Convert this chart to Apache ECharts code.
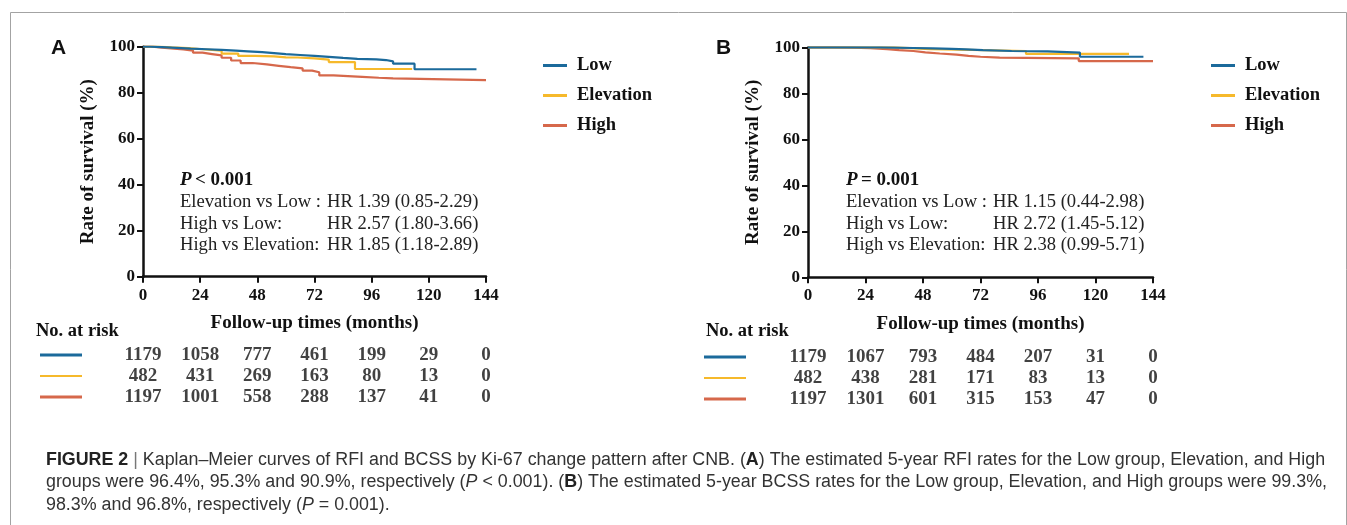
<!DOCTYPE html>
<html>
<head>
<meta charset="utf-8">
<title>Kaplan-Meier curves</title>
<script src="https://cdn.jsdelivr.net/npm/echarts@6/dist/echarts.min.js"></script>
<style>
  html, body { margin: 0; padding: 0; background: #fff; }
  #chart { width: 1347px; height: 525px; }
</style>
</head>
<body>
<div id="chart"></div>
<script>
// tick labels / risk table columns
var months = [0, 24, 48, 72, 96, 120, 144]
var groups = ['Low', 'Elevation', 'High']
var colors = ['#1b6a9b', '#f6b92b', '#d6684b']

// panel A curves (month, survival %)
var lowA = [[0, 100], [3, 99.8], [8, 99.5], [14, 99.2], [20, 98.9], [27, 98.6], [33, 98.3], [39, 98.0], [44, 97.6],
  [50, 97.2], [55, 96.8], [60, 96.4], [66, 96.0], [72, 95.6], [78, 95.1], [84, 94.7], [90, 94.5], [98, 94.2],
  [102, 93.6], [105, 92.6], [114, 90.2], [140, 90.2]]
var elevA = [[0, 100], [6, 99.7], [12, 99.4], [19, 98.9], [25, 98.3], [33, 97.0], [40, 96.0], [47, 95.8], [55, 95.4],
  [60, 95.3], [65, 94.9], [72, 94.4], [78, 93.3], [89, 90.3], [113, 90.3]]
var highA = [[0, 100], [4, 99.6], [8, 99.1], [13, 98.8], [17, 98.3], [21, 97.4], [25, 96.8], [29, 96.2], [33, 95.2],
  [37, 94.0], [41, 92.9], [46, 92.3], [52, 91.7], [57, 91.1], [62, 90.6], [67, 89.6], [71, 88.9], [74, 87.5],
  [80, 87.2], [86, 86.9], [92, 86.5], [99, 86.2], [105, 85.5], [144, 85.5]]

// panel B curves
var lowB = [[0, 100], [20, 100], [30, 99.9], [36, 99.7], [44, 99.5], [52, 99.3], [60, 99.1], [66, 98.8], [73, 98.4],
  [85, 98.2], [100, 97.7], [113.5, 95.9], [140, 95.9]]
var elevB = [[0, 100], [35, 100], [36, 99.2], [51, 98.4], [91, 97.1], [134, 97.1]]
var highB = [[0, 100], [10, 99.9], [18, 99.6], [26, 99.2], [33, 98.8], [38, 98.4], [44, 97.8], [49, 97.3], [55, 96.8],
  [62, 96.3], [67, 95.9], [72, 95.5], [80, 95.2], [113, 94.0], [144, 94.0]]

// number at risk
var riskLowA = [1179, 1058, 777, 461, 199, 29, 0]
var riskElevA = [482, 431, 269, 163, 80, 13, 0]
var riskHighA = [1197, 1001, 558, 288, 137, 41, 0]
var riskLowB = [1179, 1067, 793, 484, 207, 31, 0]
var riskElevB = [482, 438, 281, 171, 83, 13, 0]
var riskHighB = [1197, 1301, 601, 315, 153, 47, 0]

// hazard ratio notes
var compareLabels = ['Elevation vs Low :', 'High vs Low:', 'High vs Elevation:']
var hrA = ['HR 1.39 (0.85-2.29)', 'HR 2.57 (1.80-3.66)', 'HR 1.85 (1.18-2.89)']
var hrB = ['HR 1.15 (0.44-2.98)', 'HR 2.72 (1.45-5.12)', 'HR 2.38 (0.99-5.71)']

var serif = "'Liberation Serif', 'Times New Roman', serif"
var sans = "'Liberation Sans', Arial, sans-serif"

var option = {
  animation: false,
  backgroundColor: '#fff',
  grid: [],
  xAxis: [],
  yAxis: [],
  legend: [],
  series: [],
  graphic: []
}

function addPanel(cfg) {
  var g = option.grid.length
  // plot + risk table grids
  option.grid.push({ left: cfg.left, top: cfg.top, width: cfg.width, height: 230 })
  option.grid.push({ left: cfg.left, top: cfg.riskTop, width: cfg.width, height: 63 })

  option.xAxis.push({
    gridIndex: g, type: 'value', min: 0, max: 144, interval: 24,
    name: 'Follow-up times (months)', nameLocation: 'middle', nameGap: 37,
    nameTextStyle: { fontFamily: serif, fontWeight: 'bold', fontSize: 19, color: '#111' },
    axisLine: { show: true, lineStyle: { color: '#111', width: 2.5 } },
    axisTick: { show: true, length: 6, lineStyle: { color: '#111', width: 2 } },
    axisLabel: { margin: 10, fontFamily: serif, fontWeight: 'bold', fontSize: 17, color: '#111' },
    splitLine: { show: false }
  })
  option.xAxis.push({ gridIndex: g + 1, type: 'value', min: 0, max: 144, show: false })

  option.yAxis.push({
    gridIndex: g, type: 'value', min: 0, max: 100, interval: 20,
    name: 'Rate of survival (%)', nameLocation: 'middle', nameGap: 45,
    nameTextStyle: { fontFamily: serif, fontWeight: 'bold', fontSize: 19, color: '#111' },
    axisLine: { show: true, lineStyle: { color: '#111', width: 2.5 } },
    axisTick: { show: true, length: 6, lineStyle: { color: '#111', width: 2 } },
    axisLabel: { margin: 8, fontFamily: serif, fontWeight: 'bold', fontSize: 17, color: '#111' },
    splitLine: { show: false }
  })
  option.yAxis.push({
    gridIndex: g + 1, type: 'category', data: groups, inverse: true,
    axisLine: { show: false }, axisTick: { show: false }, splitLine: { show: false },
    axisLabel: {
      margin: cfg.left - cfg.markerRight,
      formatter: function (v) { return '{' + v + '| }' },
      rich: {
        Low: { backgroundColor: colors[0], width: 42, height: 3, lineHeight: 3 },
        Elevation: { backgroundColor: colors[1], width: 42, height: 2, lineHeight: 2 },
        High: { backgroundColor: colors[2], width: 42, height: 3, lineHeight: 3 }
      }
    }
  })

  // survival curves, Low drawn on top
  cfg.curves.forEach(function (c, i) {
    option.series.push({
      type: 'line', name: groups[i], xAxisIndex: g, yAxisIndex: g,
      data: c, step: 'end', symbol: 'none', showSymbol: false,
      lineStyle: { width: 2.2, color: colors[i] },
      itemStyle: { color: colors[i] },
      z: 5 - i
    })
  })

  // risk numbers
  cfg.risk.forEach(function (r, i) {
    option.series.push({
      type: 'scatter', xAxisIndex: g + 1, yAxisIndex: g + 1, silent: true,
      symbolSize: 1, itemStyle: { color: 'rgba(0,0,0,0)' },
      data: months.map(function (m, j) { return [m, groups[i], r[j]] }),
      label: {
        show: true, position: 'inside',
        formatter: function (p) { return p.value[2] },
        fontFamily: serif, fontWeight: 'bold', fontSize: 19, color: '#111'
      }
    })
  })

  option.legend.push({
    data: groups, orient: 'vertical', left: cfg.legendLeft, top: 51,
    icon: 'rect', itemWidth: 24, itemHeight: 3, itemGap: 11,
    textStyle: { fontFamily: serif, fontWeight: 'bold', fontSize: 18.5, color: '#111', padding: [0, 0, 0, 5] }
  })

  // panel letter
  option.graphic.push({
    type: 'text', left: cfg.letterX, top: 38,
    style: { text: cfg.letter, font: 'bold 21px ' + sans, fill: '#111' }
  })
  // "No. at risk"
  option.graphic.push({
    type: 'text', left: cfg.riskTitleX, top: 322,
    style: { text: 'No. at risk', font: 'bold 18.5px ' + serif, fill: '#111' }
  })
  // P value and HR notes
  option.graphic.push({
    type: 'text', left: cfg.noteX, top: 171,
    style: {
      text: '{i|P} {b|' + cfg.pText + '}',
      rich: {
        i: { font: 'bold italic 19px ' + serif, fill: '#111' },
        b: { font: 'bold 19px ' + serif, fill: '#111' }
      }
    }
  })
  compareLabels.forEach(function (t, i) {
    option.graphic.push({
      type: 'text', left: cfg.noteX, top: 193 + i * 21.5,
      style: { text: t, font: '18.6px ' + serif, fill: '#222' }
    })
    option.graphic.push({
      type: 'text', left: cfg.hrX, top: 193 + i * 21.5,
      style: { text: cfg.hr[i], font: '18.6px ' + serif, fill: '#222' }
    })
  })
}

addPanel({
  left: 143, top: 46.7, width: 343, riskTop: 344.5, markerRight: 82,
  legendLeft: 538, letter: 'A', letterX: 51, riskTitleX: 36,
  noteX: 180, hrX: 327, pText: '< 0.001', hr: hrA,
  curves: [lowA, elevA, highA], risk: [riskLowA, riskElevA, riskHighA]
})
addPanel({
  left: 808, top: 47.3, width: 345, riskTop: 346.5, markerRight: 746,
  legendLeft: 1206, letter: 'B', letterX: 716, riskTitleX: 706,
  noteX: 846, hrX: 993, pText: '= 0.001', hr: hrB,
  curves: [lowB, elevB, highB], risk: [riskLowB, riskElevB, riskHighB]
})

// outer frame
option.graphic.push({
  type: 'rect', left: 8, top: 10, silent: true,
  shape: { width: 1336, height: 600 },
  style: { fill: 'none', stroke: '#a3a3a3', lineWidth: 1 }
})

// caption
var captionLines = [
  '{b|FIGURE 2} {s||} Kaplan–Meier curves of RFI and BCSS by Ki-67 change pattern after CNB. ({b|A}) The estimated 5-year RFI rates for the Low group, Elevation, and High',
  'groups were 96.4%, 95.3% and 90.9%, respectively ({i|P} < 0.001). ({b|B}) The estimated 5-year BCSS rates for the Low group, Elevation, and High groups were 99.3%,',
  '98.3% and 96.8%, respectively ({i|P} = 0.001).'
]
captionLines.forEach(function (t, i) {
  option.graphic.push({
    type: 'text', left: 46, top: 451 + i * 22.5,
    style: {
      text: t, font: '17.85px ' + sans, fill: '#333',
      rich: {
        b: { font: 'bold 17.85px ' + sans, fill: '#222' },
        i: { font: 'italic 17.85px ' + sans, fill: '#333' },
        s: { font: '17.85px ' + sans, fill: '#777' }
      }
    }
  })
})

var myChart = echarts.init(document.getElementById('chart'))
myChart.setOption(option)
</script>
</body>
</html>
